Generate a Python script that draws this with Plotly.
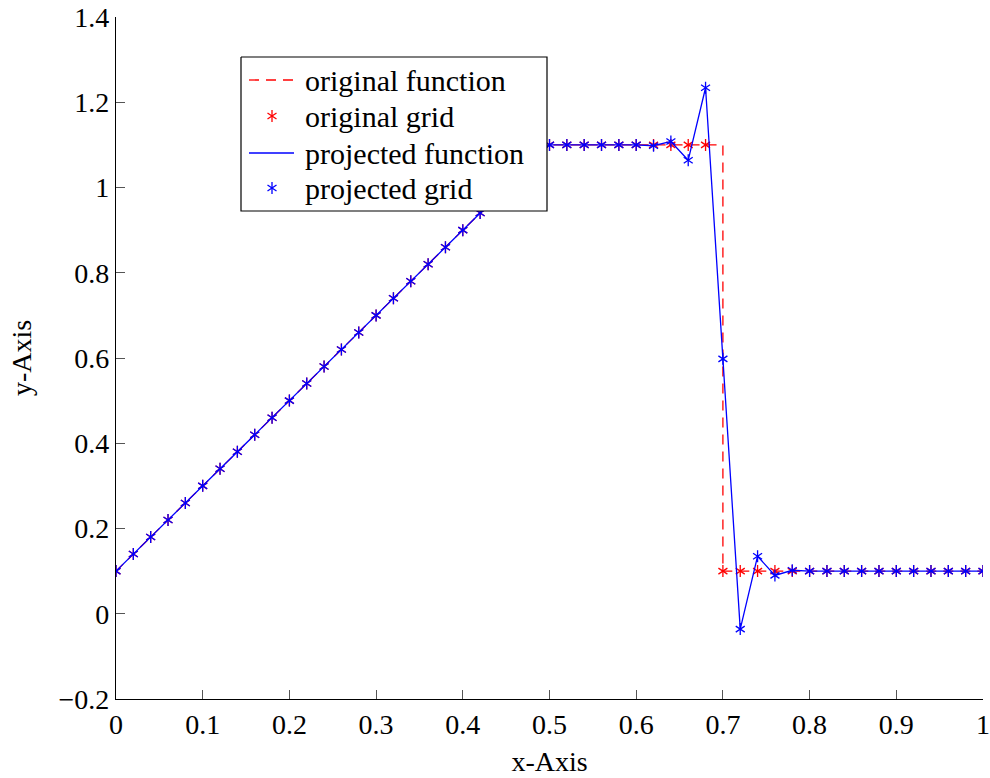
import plotly.graph_objects as go

# Sample grid on [0, 1] with step 0.02
grid_x = [0.00, 0.02, 0.04, 0.06, 0.08, 0.10, 0.12, 0.14, 0.16, 0.18,
          0.20, 0.22, 0.24, 0.26, 0.28, 0.30, 0.32, 0.34, 0.36, 0.38,
          0.40, 0.42, 0.44, 0.46, 0.48, 0.50, 0.52, 0.54, 0.56, 0.58,
          0.60, 0.62, 0.64, 0.66, 0.68, 0.70, 0.72, 0.74, 0.76, 0.78,
          0.80, 0.82, 0.84, 0.86, 0.88, 0.90, 0.92, 0.94, 0.96, 0.98, 1.00]

# Original function evaluated on the grid
original_grid = [0.10, 0.14, 0.18, 0.22, 0.26, 0.30, 0.34, 0.38, 0.42, 0.46,
                 0.50, 0.54, 0.58, 0.62, 0.66, 0.70, 0.74, 0.78, 0.82, 0.86,
                 0.90, 0.94, 0.98, 1.02, 1.06, 1.10, 1.10, 1.10, 1.10, 1.10,
                 1.10, 1.10, 1.10, 1.10, 1.10, 0.10, 0.10, 0.10, 0.10, 0.10,
                 0.10, 0.10, 0.10, 0.10, 0.10, 0.10, 0.10, 0.10, 0.10, 0.10, 0.10]

# Projected function on the grid (oscillates around the jump)
projected_grid = [0.10, 0.14, 0.18, 0.22, 0.26, 0.30, 0.34, 0.38, 0.42, 0.46,
                  0.50, 0.54, 0.58, 0.62, 0.66, 0.70, 0.74, 0.78, 0.82, 0.86,
                  0.90, 0.94, 0.98, 1.02, 1.06, 1.10, 1.10, 1.10, 1.10, 1.10,
                  1.10, 1.098, 1.108, 1.064, 1.234, 0.598, -0.036, 0.135, 0.090, 0.102,
                  0.10, 0.10, 0.10, 0.10, 0.10, 0.10, 0.10, 0.10, 0.10, 0.10, 0.10]

# Exact original function (piecewise linear with a jump at x = 0.7)
original_fn_x = [0.0, 0.5, 0.7, 0.7, 1.0]
original_fn_y = [0.1, 1.1, 1.1, 0.1, 0.1]

x_ticks = [0, 0.1, 0.2, 0.3, 0.4, 0.5, 0.6, 0.7, 0.8, 0.9, 1]
x_tick_text = ["0", "0.1", "0.2", "0.3", "0.4", "0.5", "0.6", "0.7", "0.8", "0.9", "1"]
y_ticks = [-0.2, 0, 0.2, 0.4, 0.6, 0.8, 1.0, 1.2, 1.4]
y_tick_text = ["\u22120.2", "0", "0.2", "0.4", "0.6", "0.8", "1", "1.2", "1.4"]

legend_labels = ["original function", "original grid", "projected function", "projected grid"]

RED = "#ff0000"
BLUE = "#0000ff"
FONT = "Liberation Serif"
MSIZE = 7.5
LW = 1.3
DASH = "10px,7px"

W, H = 990, 778
L, R, T, B = 116, 7, 17, 79


def star_traces(x, y, color, xaxis="x", yaxis="y"):
    """Six-armed asterisk built from two overlaid three-armed symbols."""
    out = []
    for sym in ("y-up", "y-down"):
        out.append(go.Scatter(
            x=x, y=y, mode="markers", xaxis=xaxis, yaxis=yaxis,
            marker=dict(symbol=sym, size=MSIZE, color=color,
                        line=dict(color=color, width=1.3)),
            showlegend=False, hoverinfo="skip"))
    return out


fig = go.Figure()

fig.add_trace(go.Scatter(x=original_fn_x, y=original_fn_y, mode="lines",
                         line=dict(color=RED, width=LW, dash=DASH),
                         showlegend=False, hoverinfo="skip"))
fig.add_traces(star_traces(grid_x, original_grid, RED))
fig.add_trace(go.Scatter(x=grid_x, y=projected_grid, mode="lines",
                         line=dict(color=BLUE, width=LW), showlegend=False,
                         hoverinfo="skip"))
fig.add_traces(star_traces(grid_x, projected_grid, BLUE))

# ---- legend box on an overlay axis pair measured in screen pixels ----
box_l, box_t, box_r, box_b = 241, 57, 547, 211
rows = [80, 116, 153, 188]
sample_l, sample_r, sample_mid, text_l = 249, 294, 272, 303

fig.add_trace(go.Scatter(
    x=[box_l, box_r, box_r, box_l, box_l], y=[box_t, box_t, box_b, box_b, box_t],
    xaxis="x2", yaxis="y2", mode="lines", fill="toself", fillcolor="white",
    line=dict(color="black", width=1.2), showlegend=False, hoverinfo="skip"))
fig.add_trace(go.Scatter(
    x=[sample_l, sample_r], y=[rows[0], rows[0]], xaxis="x2", yaxis="y2",
    mode="lines", line=dict(color=RED, width=LW, dash=DASH),
    showlegend=False, hoverinfo="skip"))
fig.add_trace(go.Scatter(
    x=[sample_l, sample_r], y=[rows[2], rows[2]], xaxis="x2", yaxis="y2",
    mode="lines", line=dict(color=BLUE, width=LW),
    showlegend=False, hoverinfo="skip"))
fig.add_traces(star_traces([sample_mid], [rows[1]], RED, "x2", "y2"))
fig.add_traces(star_traces([sample_mid], [rows[3]], BLUE, "x2", "y2"))
for r, lab in zip(rows, legend_labels):
    fig.add_annotation(x=text_l, y=r, xref="x2", yref="y2",
                       text=lab, showarrow=False, xanchor="left", yanchor="middle",
                       font=dict(family=FONT, size=30, color="black"))

axis_font = dict(family=FONT, size=28, color="black")
common = dict(showgrid=False, zeroline=False, showline=True, linecolor="black",
              linewidth=1.2, ticks="inside", ticklen=9, tickwidth=1, tickcolor="#555",
              tickfont=axis_font, automargin=False, ticklabeloverflow="allow")

fig.update_layout(
    width=W, height=H, autosize=False,
    margin=dict(l=L, r=R, t=T, b=B),
    paper_bgcolor="white", plot_bgcolor="white",
    showlegend=False,
    xaxis=dict(range=[-1e-6, 1 + 1e-6], tickmode="array", tickvals=x_ticks,
               ticktext=x_tick_text,
               title=dict(text="x-Axis", font=axis_font, standoff=12), **common),
    yaxis=dict(range=[-0.2 - 1e-6, 1.4 + 1e-6], tickmode="array", tickvals=y_ticks,
               ticktext=y_tick_text,
               title=dict(text="y-Axis", font=axis_font, standoff=18), **common),
    xaxis2=dict(overlaying="x", range=[L, W - R], visible=False, fixedrange=True),
    yaxis2=dict(overlaying="y", range=[H - B, T], visible=False, fixedrange=True),
)

fig.write_html("out.html")
